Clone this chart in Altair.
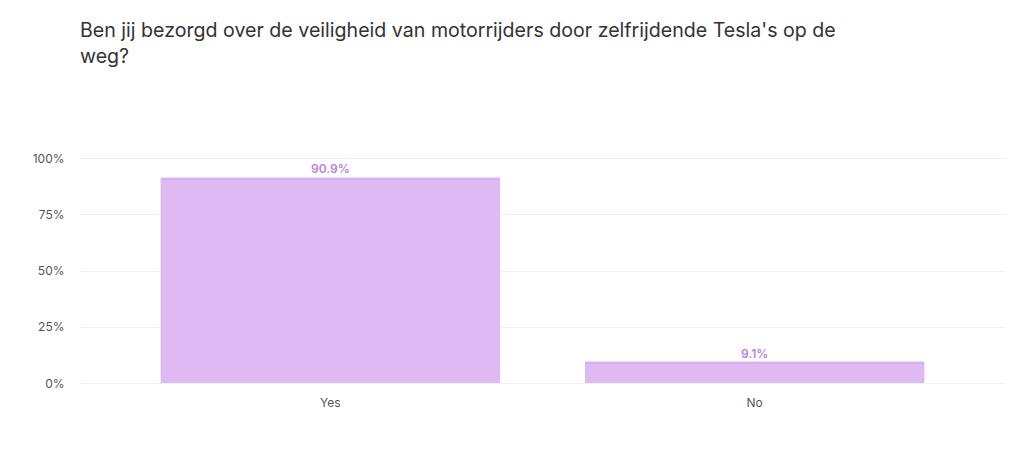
import altair as alt
import pandas as pd

answers = ["Yes", "No"]
shares = [90.9, 9.1]
labels = ["90.9%", "9.1%"]

df = pd.DataFrame({"answer": answers, "share": shares, "label": labels})

x = alt.X("answer:N", sort=answers, title=None,
          scale=alt.Scale(paddingInner=0.2, paddingOuter=0.19),
          axis=alt.Axis(labelAngle=0, domain=False, ticks=False, labelPadding=14,
                        labelColor="#555555", labelFontSize=12, labelFont="Inter"))
y = alt.Y("share:Q", title=None,
          scale=alt.Scale(domain=[0, 100]),
          axis=alt.Axis(values=[0, 25, 50, 75, 100], labelExpr="datum.value + '%'",
                        domain=False, ticks=False, labelPadding=16,
                        labelColor="#555555", labelFontSize=12, labelFont="Inter",
                        gridColor="#f0f0f0", gridWidth=1))

base = alt.Chart(df)
bars = base.mark_bar(color="#dfb9f2").encode(x=x, y=y)
tops = base.mark_tick(color="#cf9ce9", thickness=2, size=339).encode(x=x, y=y)
text = base.mark_text(dy=-9, color="#b983d8", fontSize=12, fontWeight=600, font="Inter").encode(
    x=x, y=y, text="label:N")

chart = (bars + tops + text).properties(
    width=925, height=225,
    padding={"left": 72, "top": 150, "right": 10, "bottom": 60},
    autosize=alt.AutoSizeParams(type="none"),
    title=alt.TitleParams(
        ["Ben jij bezorgd over de veiligheid van motorrijders door zelfrijdende Tesla's op de", "weg?"],
        anchor="start", frame="group", offset=84, fontSize=19.6, fontWeight="normal",
        font="Inter", color="#333333", lineHeight=26),
).configure_view(stroke=None)

chart.save("out.html", embed_options={"renderer": "svg", "actions": False})
